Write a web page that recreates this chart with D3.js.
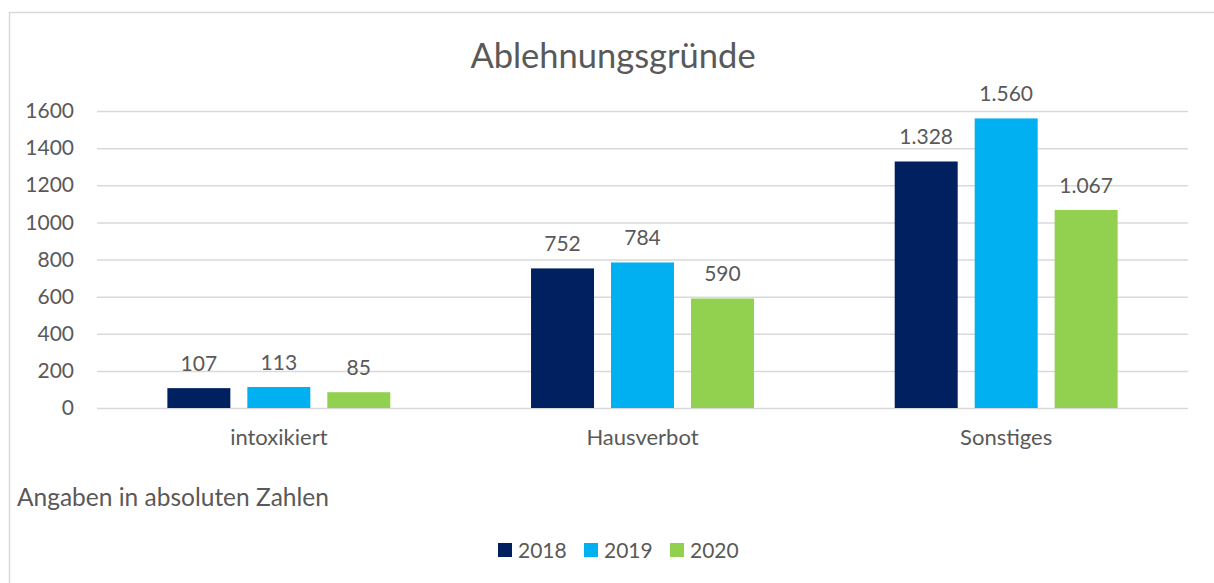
<!DOCTYPE html>
<html>
<head>
<meta charset="utf-8">
<script src="https://cdn.jsdelivr.net/npm/d3@7"></script>
<style>
  body { margin: 0; background: #fff; }
  text { font-family: Lato, "Open Sans", sans-serif; fill: #595959; }
</style>
</head>
<body>
<svg id="chart" width="1214" height="583"></svg>
<script>
// chart data
const categories = ['intoxikiert', 'Hausverbot', 'Sonstiges'];
const years = ['2018', '2019', '2020'];
const values2018 = [107, 752, 1328];
const values2019 = [113, 784, 1560];
const values2020 = [85, 590, 1067];
const yTicks = [0, 200, 400, 600, 800, 1000, 1200, 1400, 1600];
const colors = ['#002060', '#00B0F0', '#92D050'];

const series = [values2018, values2019, values2020];
let rows = [];
categories.forEach(function(c, i){
    years.forEach(function(y, j){
        rows.push({cat: c, year: y, value: series[j][i]});
    });
});

// German number format for the value labels: 1.328
const de = d3.formatLocale({decimal: ',', thousands: '.', grouping: [3], currency: ['', ' €']});
const fmt = de.format(',');

let svg = d3.select('#chart');

// outer frame (right/bottom edges fall outside the picture)
svg.append('rect')
    .attr('x', 9.5).attr('y', 12.5)
    .attr('width', 1300).attr('height', 700)
    .attr('fill', 'none')
    .attr('stroke', '#D9D9D9')
    .attr('stroke-width', 1.5);

let plotLeft = 97, plotRight = 1188, plotTop = 111, plotBottom = 408;

let yScale = d3.scaleLinear()
    .domain([0, 1600])
    .range([plotBottom, plotTop]);

let x0 = d3.scaleBand()
    .domain(categories)
    .range([plotLeft, plotRight]);

let x1 = d3.scaleBand()
    .domain(years)
    .range([0, x0.bandwidth()])
    .paddingInner(0.2125)
    .paddingOuter(0.88);

let color = d3.scaleOrdinal().domain(years).range(colors);

// gridlines + y labels
let yAxis = svg.append('g')
    .attr('transform', 'translate(' + plotLeft + ',0)')
    .call(d3.axisLeft(yScale)
        .tickValues(yTicks)
        .tickFormat(d3.format('d'))
        .tickSize(-(plotRight - plotLeft))
        .tickPadding(23));
yAxis.select('.domain').remove();
yAxis.selectAll('line').attr('stroke', '#D9D9D9').attr('stroke-width', 1.5);
yAxis.selectAll('text')
    .style('font-size', '21px')
    .attr('fill', '#595959');

// category labels
let xAxis = svg.append('g')
    .attr('transform', 'translate(0,' + plotBottom + ')')
    .call(d3.axisBottom(x0).tickSize(0).tickPadding(21));
xAxis.select('.domain').remove();
xAxis.selectAll('text')
    .style('font-size', '22px')
    .attr('fill', '#595959');

// bars
let groups = svg.append('g').selectAll('g')
    .data(categories)
    .enter()
    .append('g')
    .attr('transform', d => 'translate(' + x0(d) + ',0)');

groups.selectAll('rect')
    .data(c => rows.filter(r => r.cat === c))
    .enter()
    .append('rect')
    .attr('x', d => x1(d.year))
    .attr('y', d => yScale(d.value))
    .attr('width', x1.bandwidth())
    .attr('height', d => plotBottom - yScale(d.value))
    .attr('fill', d => color(d.year));

// value labels
groups.selectAll('text.val')
    .data(c => rows.filter(r => r.cat === c))
    .enter()
    .append('text')
    .attr('class', 'val')
    .attr('x', d => x1(d.year) + x1.bandwidth() / 2)
    .attr('y', d => yScale(d.value) - 17)
    .attr('text-anchor', 'middle')
    .style('font-size', '21px')
    .text(d => fmt(d.value));

// title
svg.append('text')
    .attr('x', 613)
    .attr('y', 68)
    .attr('text-anchor', 'middle')
    .style('font-size', '34.5px')
    .text('Ablehnungsgründe');

// note
svg.append('text')
    .attr('x', 17)
    .attr('y', 506)
    .style('font-size', '24.5px')
    .text('Angaben in absoluten Zahlen');

// legend
let legend = svg.append('g').selectAll('g')
    .data(years)
    .enter()
    .append('g')
    .attr('transform', (d, i) => 'translate(' + (498 + i * 86) + ',543)');

legend.append('rect')
    .attr('width', 14).attr('height', 14)
    .attr('fill', d => color(d));

legend.append('text')
    .attr('x', 20)
    .attr('y', 15)
    .style('font-size', '21px')
    .text(d => d);
</script>
</body>
</html>
